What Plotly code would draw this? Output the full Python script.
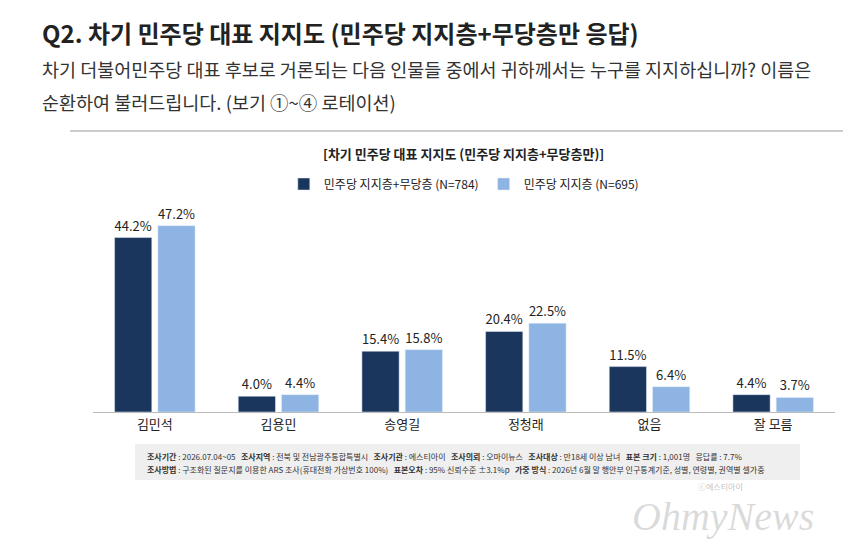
import plotly.graph_objects as go

categories = ["김민석", "김용민", "송영길", "정청래", "없음", "잘 모름"]
s1_name = "민주당 지지층+무당층 (N=784)"
s1 = [44.2, 4.0, 15.4, 20.4, 11.5, 4.4]
s2_name = "민주당 지지층 (N=695)"
s2 = [47.2, 4.4, 15.8, 22.5, 6.4, 3.7]

W, H = 860, 550
F = "Noto Sans CJK KR"
def px(x): return x / W
def py(y): return 1 - y / H

fig = go.Figure()
for name, vals, col in [(s1_name, s1, "#1b365d"), (s2_name, s2, "#8db4e2")]:
    fig.add_bar(x=categories, y=vals, name=name, marker_color=col,
                text=[f"{v:.1f}%" for v in vals], textposition="outside",
                textfont=dict(size=13, color="#222", family=F), cliponaxis=False)

fig.update_layout(
    width=W, height=H, margin=dict(l=0, r=0, t=0, b=0),
    paper_bgcolor="white", plot_bgcolor="white",
    font=dict(family=F, color="#222"),
    barmode="group", bargap=0.3, bargroupgap=0.14,
    xaxis=dict(domain=[px(85), px(827)], showline=True, linecolor="#bbb",
               ticks="outside", tickcolor="#bbb", ticklen=0,
               tickfont=dict(size=13, color="#222")),
    yaxis=dict(domain=[py(404), py(181)], range=[0, 56.5], visible=False),
    legend=dict(orientation="h", x=0.53, xanchor="center", y=py(176), yanchor="middle",
                font=dict(size=12, color="#222"), itemwidth=30, traceorder="normal"),
    showlegend=True,
)
fig.add_annotation(x=px(32), y=py(24), xref="paper", yref="paper", xanchor="left", yanchor="middle",
                   text="<b>Q2. 차기 민주당 대표 지지도 (민주당 지지층+무당층만 응답)</b>",
                   showarrow=False, font=dict(size=24, color="#222"))
fig.add_annotation(x=px(32), y=py(61), xref="paper", yref="paper", xanchor="left", yanchor="middle",
                   text="차기 더불어민주당 대표 후보로 거론되는 다음 인물들 중에서 귀하께서는 누구를 지지하십니까? 이름은",
                   showarrow=False, font=dict(size=18.5, color="#333"))
fig.add_annotation(x=px(32), y=py(94), xref="paper", yref="paper", xanchor="left", yanchor="middle",
                   text="순환하여 불러드립니다. (보기 ①~④ 로테이션)",
                   showarrow=False, font=dict(size=18.5, color="#333"))
fig.add_shape(type="line", xref="paper", yref="paper", x0=px(62), x1=px(835), y0=py(123), y1=py(123),
              line=dict(color="#bbb", width=1.5))
fig.add_annotation(x=0.53, y=py(145), xref="paper", yref="paper", xanchor="center", yanchor="middle",
                   text="<b>[차기 민주당 대표 지지도 (민주당 지지층+무당층만)]</b>",
                   showarrow=False, font=dict(size=13, color="#222"))
fig.add_shape(type="rect", xref="paper", yref="paper", x0=px(127), x1=px(792), y0=py(472), y1=py(436),
              fillcolor="#efefef", line=dict(width=0), layer="below")
fig.add_annotation(x=px(137), y=py(448), xref="paper", yref="paper", xanchor="left", yanchor="middle",
                   text="<b>조사기간</b> : 2026.07.04~05   <b>조사지역</b> : 전북 및 전남광주통합특별시   <b>조사기관</b> : 에스티아이   <b>조사의뢰</b> : 오마이뉴스   <b>조사대상</b> : 만18세 이상 남녀   <b>표본 크기</b> : 1,001명   응답률 : 7.7%",
                   showarrow=False, font=dict(size=8, color="#333"))
fig.add_annotation(x=px(137), y=py(461), xref="paper", yref="paper", xanchor="left", yanchor="middle",
                   text="<b>조사방법</b> : 구조화된 질문지를 이용한 ARS 조사(휴대전화 가상번호 100%)   <b>표본오차</b> : 95% 신뢰수준 ±3.1%p   <b>가중 방식</b> : 2026년 6월 말 행안부 인구통계기준, 성별, 연령별, 권역별 셀가중",
                   showarrow=False, font=dict(size=8, color="#333"))
fig.add_annotation(x=px(715), y=py(508), xref="paper", yref="paper", xanchor="center", yanchor="middle",
                   text="<i>OhmyNews</i>", showarrow=False,
                   font=dict(size=40, color="rgba(150,150,150,0.35)", family="Liberation Serif"))
fig.add_annotation(x=px(712), y=py(479), xref="paper", yref="paper", xanchor="center", yanchor="middle",
                   text="ⓒ에스티아이", showarrow=False, font=dict(size=8, color="rgba(150,150,150,0.6)"))
fig.write_html("out.html")
